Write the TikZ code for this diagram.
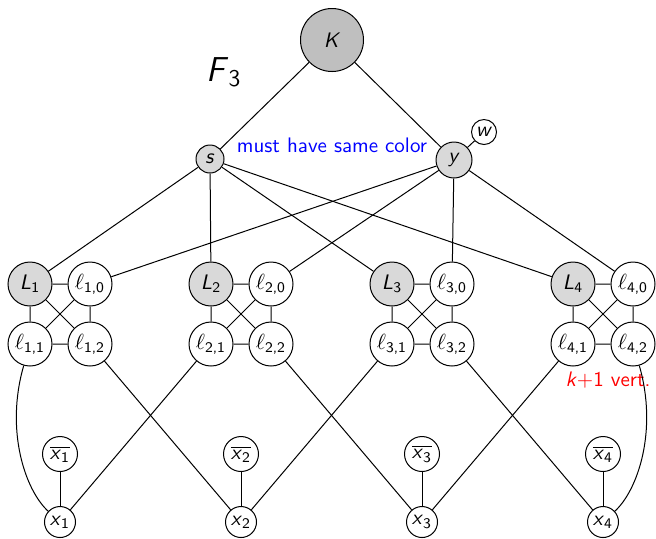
\documentclass[tikz,border=0pt]{standalone}
\usepackage{fontspec}
\renewcommand{\familydefault}{\sfdefault}
% italic sans letter with an upright sans subscript
\newcommand{\lbl}[2]{\textit{#1}\textsubscript{#2}}
\newcommand{\ellv}[1]{$\ell$\textsubscript{#1}}
\newcommand{\negx}[1]{$\overline{\mbox{\lbl{x}{#1}}}$}
\begin{document}
\begin{tikzpicture}[x=0.5pt,y=-0.5pt,line width=0.5pt,
  vtx/.style={circle,draw,line width=0.5pt,inner sep=0pt,font=\fontsize{10.5}{12}\selectfont},
  shaded/.style={fill=gray!30},
  bigvtx/.style={vtx,fill=gray!50,minimum size=31.5pt},
  gadvtx/.style={vtx,minimum size=22pt},
  litvtx/.style={vtx,minimum size=17.5pt},
  varvtx/.style={vtx,minimum size=15.5pt},
  note/.style={inner sep=0pt,font=\fontsize{10.5}{12}\selectfont}]
\useasboundingbox (0,0) rectangle (656,538);

% top of the construction
\node[bigvtx] (K) at (332,40) {\textit{K}};
\node[vtx,shaded,minimum size=14pt] (s) at (210,159) {\textit{s}};
\node[vtx,shaded,minimum size=18pt] (y) at (454,160) {\textit{y}};
\node[vtx,minimum size=12.5pt] (w) at (484,132) {\textit{w}};
\node[inner sep=0pt,font=\LARGE] (F) at (224,72) {\lbl{F}{3}};
\node[note,text=blue] (same) at (332,145) {must have same color};

% one gadget (K_4 on L_i, l_{i,0}, l_{i,1}, l_{i,2}) and one variable pair per i
\foreach \i in {1,2,3,4} {
  \pgfmathsetmacro{\bx}{30+181*(\i-1)}
  \node[gadvtx,shaded] (L\i) at (\bx,284) {\lbl{L}{\i}};
  \node[gadvtx] (l\i0) at (\bx+60,284) {\ellv{\i,0}};
  \node[gadvtx] (l\i1) at (\bx,344) {\ellv{\i,1}};
  \node[gadvtx] (l\i2) at (\bx+60,344) {\ellv{\i,2}};
  \node[litvtx] (xb\i) at (\bx+30,454) {\negx{\i}};
  \node[varvtx] (x\i) at (\bx+30,522) {\lbl{x}{\i}};
}

\node[note,text=red] (kv) at (608,380) {\textit{k}+1 vert.};

% edges
\draw (K) -- (s) (K) -- (y) (y) -- (w);
\foreach \i in {1,2,3,4} {
  \draw (s) -- (L\i);
  \draw (y) -- (l\i0);
  \draw (L\i) -- (l\i0) (L\i) -- (l\i1) (L\i) -- (l\i2)
        (l\i0) -- (l\i1) (l\i0) -- (l\i2) (l\i1) -- (l\i2);
  \draw (xb\i) -- (x\i);
}
\draw (l21) -- (x1) (l12) -- (x2) (l31) -- (x2)
      (l22) -- (x3) (l41) -- (x3) (l32) -- (x4);
\draw (l11) .. controls (5,430) and (25,490) .. (x1);
\draw (l42) .. controls (658,430) and (638,490) .. (x4);
\end{tikzpicture}
\end{document}
